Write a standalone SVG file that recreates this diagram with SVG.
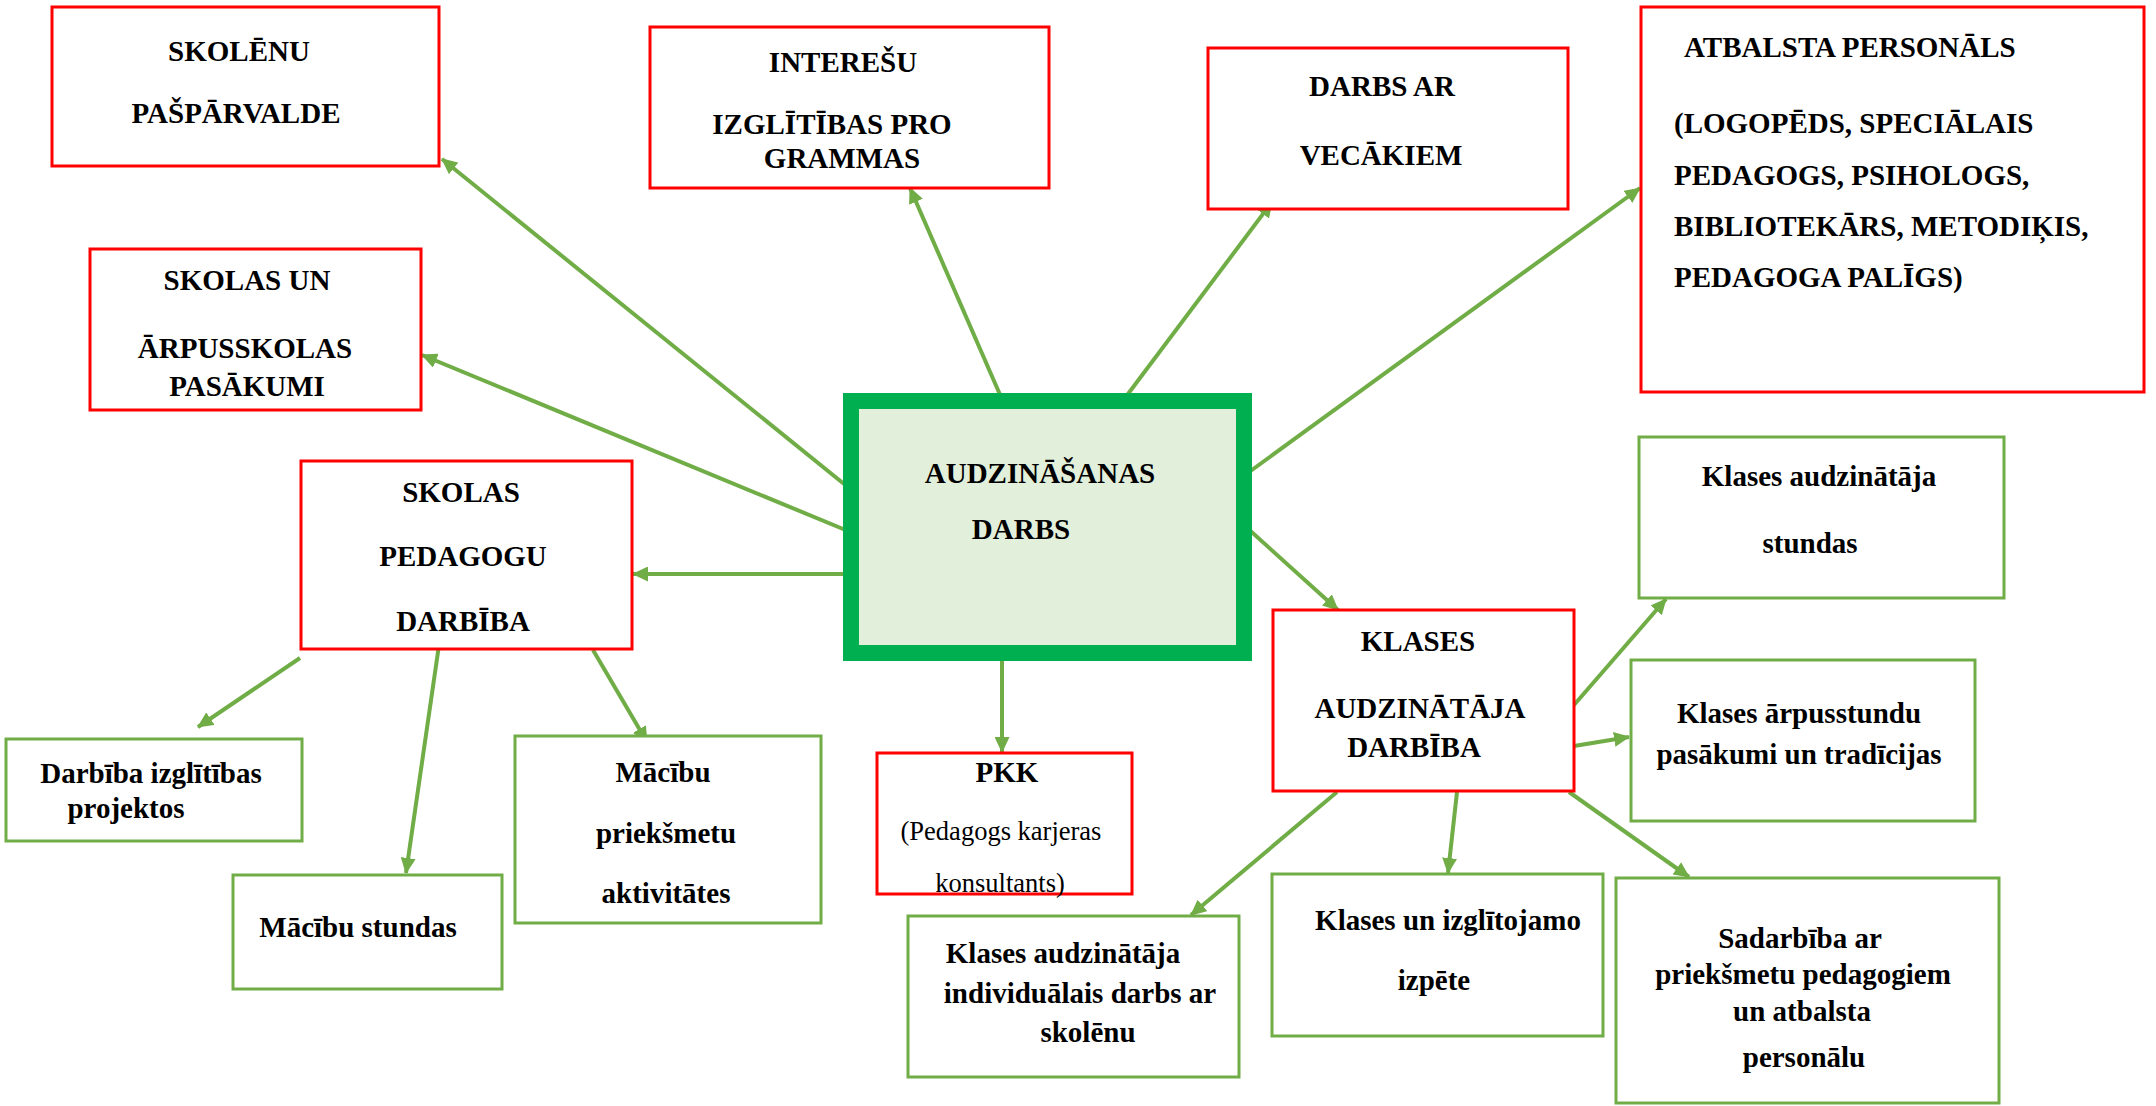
<svg xmlns="http://www.w3.org/2000/svg" width="2156" height="1106" viewBox="0 0 2156 1106">
<defs>
<style>
.red{fill:#fff;stroke:#ff0000;stroke-width:3}
.grn{fill:#fff;stroke:#70ad47;stroke-width:3}
.ctr{fill:#e2efda;stroke:#00b050;stroke-width:16}
.t{font-family:"Liberation Serif","Times New Roman",serif;font-weight:bold;font-size:29px;fill:#000;text-anchor:middle}
.l{text-anchor:start}
.r{font-family:"Liberation Serif","Times New Roman",serif;font-size:26.5px;fill:#000;text-anchor:middle}
.c line{stroke:#70ad47;stroke-width:4;marker-end:url(#ah)}
</style>
<marker id="ah" viewBox="0 0 16 15" markerWidth="16" markerHeight="15" refX="15" refY="7.5" markerUnits="userSpaceOnUse" orient="auto">
<path d="M0,0 L16,7.5 L0,15 z" fill="#70ad47"/>
</marker>
</defs>
<rect width="2156" height="1106" fill="#fff"/>
<g id="connectors" class="c">
<line x1="849" y1="488" x2="442" y2="159"/>
<line x1="848" y1="531" x2="422" y2="355"/>
<line x1="845" y1="574" x2="633" y2="574"/>
<line x1="1001" y1="397" x2="910" y2="188"/>
<line x1="1119" y1="406" x2="1272" y2="202"/>
<line x1="1245" y1="475" x2="1640" y2="188"/>
<line x1="1245" y1="526" x2="1338" y2="610"/>
<line x1="1002" y1="661" x2="1002" y2="752"/>
<line x1="300" y1="658" x2="198" y2="727"/>
<line x1="439" y1="645" x2="406" y2="873"/>
<line x1="593" y1="650" x2="647" y2="742"/>
<line x1="1574" y1="705" x2="1666" y2="599"/>
<line x1="1574" y1="746" x2="1629" y2="737"/>
<line x1="1337" y1="792" x2="1191" y2="915"/>
<line x1="1457" y1="792" x2="1448" y2="873"/>
<line x1="1569" y1="792" x2="1689" y2="877"/>
</g>
<g id="skolenu">
<rect class="red" x="52" y="7" width="387" height="159"/>
<text class="t" x="239" y="61">SKOLĒNU</text>
<text class="t" x="236" y="123">PAŠPĀRVALDE</text>
</g>
<g id="skolas-un">
<rect class="red" x="90" y="249" width="331" height="161"/>
<text class="t" x="247" y="290">SKOLAS UN</text>
<text class="t" x="245" y="358">ĀRPUSSKOLAS</text>
<text class="t" x="247" y="396">PASĀKUMI</text>
</g>
<g id="skolas-pedagogu">
<rect class="red" x="301" y="461" width="331" height="188"/>
<text class="t" x="461" y="502">SKOLAS</text>
<text class="t" x="463" y="566">PEDAGOGU</text>
<text class="t" x="463" y="631">DARBĪBA</text>
</g>
<g id="interesu">
<rect class="red" x="650" y="27" width="399" height="161"/>
<text class="t" x="843" y="72">INTEREŠU</text>
<text class="t" x="832" y="134">IZGLĪTĪBAS PRO</text>
<text class="t" x="842" y="168">GRAMMAS</text>
</g>
<g id="darbs-ar">
<rect class="red" x="1208" y="48" width="360" height="161"/>
<text class="t" x="1382" y="96">DARBS AR</text>
<text class="t" x="1381" y="165">VECĀKIEM</text>
</g>
<g id="atbalsta">
<rect class="red" x="1641" y="7" width="503" height="385"/>
<text class="t l" x="1684" y="57">ATBALSTA PERSONĀLS</text>
<text class="t l" x="1674" y="133">(LOGOPĒDS, SPECIĀLAIS</text>
<text class="t l" x="1674" y="185">PEDAGOGS, PSIHOLOGS,</text>
<text class="t l" x="1674" y="236">BIBLIOTEKĀRS, METODIĶIS,</text>
<text class="t l" x="1674" y="287">PEDAGOGA PALĪGS)</text>
</g>
<g id="audzinasanas">
<rect class="ctr" x="851" y="401" width="393" height="252"/>
<text class="t" x="1040" y="483">AUDZINĀŠANAS</text>
<text class="t" x="1021" y="539">DARBS</text>
</g>
<g id="pkk">
<rect class="red" x="877" y="753" width="255" height="141"/>
<text class="t" x="1007" y="782">PKK</text>
<text class="r" x="1001" y="840">(Pedagogs karjeras</text>
<text class="r" x="1000" y="892">konsultants)</text>
</g>
<g id="klases-darbiba">
<rect class="red" x="1273" y="610" width="301" height="181"/>
<text class="t" x="1418" y="651">KLASES</text>
<text class="t" x="1420" y="718">AUDZINĀTĀJA</text>
<text class="t" x="1414" y="757">DARBĪBA</text>
</g>
<g id="klases-stundas">
<rect class="grn" x="1639" y="437" width="365" height="161"/>
<text class="t" x="1819" y="486">Klases audzinātāja</text>
<text class="t" x="1810" y="553">stundas</text>
</g>
<g id="klases-arpus">
<rect class="grn" x="1631" y="660" width="344" height="161"/>
<text class="t" x="1799" y="723">Klases ārpusstundu</text>
<text class="t" x="1799" y="764">pasākumi un tradīcijas</text>
</g>
<g id="individualais">
<rect class="grn" x="908" y="916" width="331" height="161"/>
<text class="t" x="1063" y="963">Klases audzinātāja</text>
<text class="t" x="1080" y="1003">individuālais darbs ar</text>
<text class="t" x="1088" y="1042">skolēnu</text>
</g>
<g id="izpete">
<rect class="grn" x="1272" y="874" width="331" height="162"/>
<text class="t" x="1448" y="930">Klases un izglītojamo</text>
<text class="t" x="1434" y="990">izpēte</text>
</g>
<g id="sadarbiba">
<rect class="grn" x="1616" y="878" width="383" height="225"/>
<text class="t" x="1800" y="948">Sadarbība ar</text>
<text class="t" x="1803" y="984">priekšmetu pedagogiem</text>
<text class="t" x="1802" y="1021">un atbalsta</text>
<text class="t" x="1804" y="1067">personālu</text>
</g>
<g id="darbiba-projektos">
<rect class="grn" x="6" y="739" width="296" height="102"/>
<text class="t" x="151" y="783">Darbība izglītības</text>
<text class="t" x="126" y="818">projektos</text>
</g>
<g id="macibu-stundas">
<rect class="grn" x="233" y="875" width="269" height="114"/>
<text class="t" x="358" y="937">Mācību stundas</text>
</g>
<g id="macibu-prieksmetu">
<rect class="grn" x="515" y="736" width="306" height="187"/>
<text class="t" x="663" y="782">Mācību</text>
<text class="t" x="666" y="843">priekšmetu</text>
<text class="t" x="666" y="903">aktivitātes</text>
</g>
</svg>
